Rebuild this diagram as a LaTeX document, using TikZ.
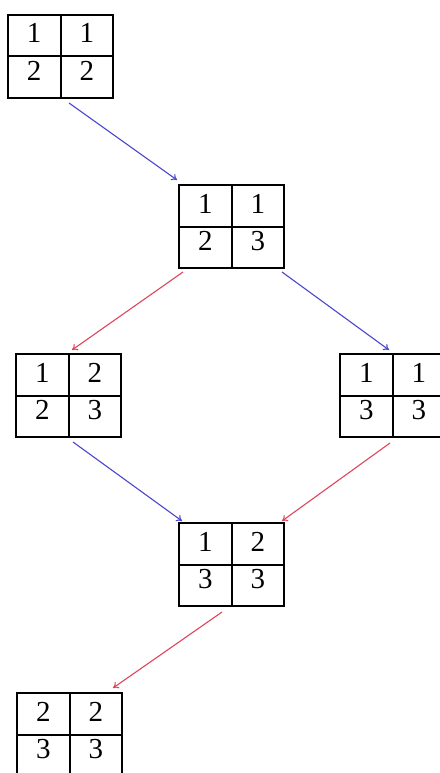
\documentclass[tikz,border=0pt]{standalone}
\usepackage{fontspec}
\setmainfont{Liberation Serif}
\usetikzlibrary{calc,arrows.meta}
\definecolor{arrblue}{RGB}{75,70,205}
\definecolor{arrred}{RGB}{222,70,90}
\tikzset{
  tabbox/.style={draw=black, line width=1.4pt, minimum width=105pt, minimum height=83pt,
    inner sep=0pt, outer sep=0pt, anchor=north west},
  gridline/.style={draw=black, line width=2pt},
  num/.style={anchor=base, inner sep=0pt, font=\fontsize{29}{29}\selectfont},
  conn/.style={line width=1.1pt, -{To[length=5.5pt,width=7.5pt]}},
  bconn/.style={conn, draw=arrblue},
  rconn/.style={conn, draw=arrred}
}
\newcommand\ytab[7]{%
  \node[tabbox] (#1) at (#2,#3) {};
  \draw[gridline] (#1.north) -- (#1.south) (#1.west) -- (#1.east);
  \node[num] (#1a) at ($(#1.north west)+(26.25,-28)$) {#4};
  \node[num] (#1b) at ($(#1.north west)+(78.75,-28)$) {#5};
  \node[num] (#1c) at ($(#1.north west)+(26.25,-65.5)$) {#6};
  \node[num] (#1d) at ($(#1.north west)+(78.75,-65.5)$) {#7};
}
\begin{document}
\begin{tikzpicture}[x=1pt,y=1pt]
\useasboundingbox[fill=white] (0,0) rectangle (439,-773);
\ytab{ta}{8}{-15}{1}{1}{2}{2}
\ytab{tb}{179}{-185}{1}{1}{2}{3}
\ytab{tc}{16}{-354}{1}{2}{2}{3}
\ytab{td}{340}{-354}{1}{1}{3}{3}
\ytab{te}{179}{-523}{1}{2}{3}{3}
\ytab{tf}{17}{-693}{2}{2}{3}{3}
\draw[bconn] ($(ta.south)+(8.5,-5)$) -- ($(tb.north west)+(-2,5)$);
\draw[rconn] ($(tb.south west)+(4,-4)$) -- ($(tc.north)+(3.5,4)$);
\draw[bconn] ($(tb.south east)+(-2,-4)$) -- ($(td.north)+(-3.5,4)$);
\draw[bconn] ($(tc.south)+(4.5,-5)$) -- ($(te.north west)+(3,2)$);
\draw[rconn] ($(td.south)+(-2.5,-6)$) -- ($(te.north east)+(-2,2)$);
\draw[rconn] ($(te.south)+(-9.5,-6)$) -- ($(tf.north east)+(-9,5)$);
\end{tikzpicture}
\end{document}
